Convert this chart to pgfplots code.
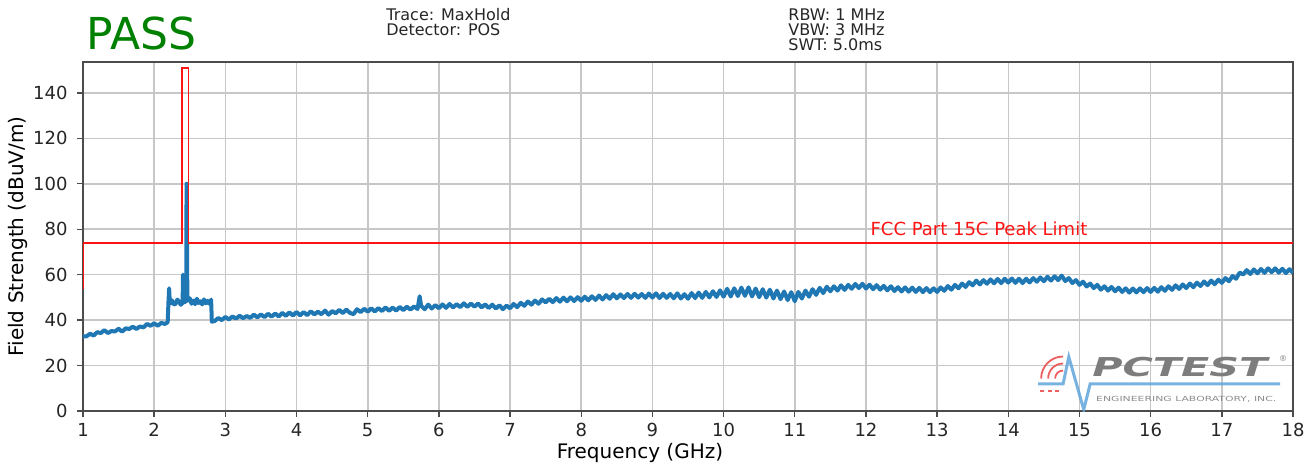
\documentclass[border=0pt]{standalone}
\usepackage{graphicx}
\usepackage{pgfplots}
\pgfplotsset{compat=1.18}
\usepackage{fontspec}
\setmainfont{DejaVu Sans}
\definecolor{mplblue}{RGB}{31,119,180}
\definecolor{passgreen}{RGB}{0,128,0}
\definecolor{logoblue}{RGB}{95,165,220}
\definecolor{logogray}{RGB}{125,125,125}
\definecolor{logored}{RGB}{235,95,95}
\definecolor{limred}{RGB}{255,20,20}
\begin{document}
\begin{tikzpicture}
\path[use as bounding box] (-41.5pt,-27.5pt) rectangle (616pt,205.5pt);
\begin{axis}[
  name=ax, at={(0,0)}, anchor=south west,
  scale only axis, width=605pt, height=174.5pt,
  xmin=1, xmax=18, ymin=0, ymax=153.6,
  xtick={1,2,...,18}, ytick={0,20,...,140},
  tick pos=left,
  grid=major, major grid style={black!22, line width=0.8pt},
  axis line style={black!70, line width=0.7pt},
  tick style={black!70, line width=0.7pt},
  tick align=outside, major tick length=3pt,
  ticklabel style={font=\fontsize{9}{10}\selectfont, text=black!85},
  xticklabel style={inner sep=0pt, anchor=north, yshift=-3pt},
  yticklabel style={inner sep=0pt, anchor=east, xshift=-4.5pt},
  /pgf/number format/assume math mode=true,
  label style={font=\fontsize{8.5}{10}\selectfont, text=black!85},
  every axis x label/.style={at={(axis description cs:0.4603,0)}, anchor=center, yshift=-21pt},
  every axis y label/.style={at={(axis description cs:0,0.5)}, xshift=-32.75pt, rotate=90, anchor=center},
  xlabel={Frequency (GHz)},
  ylabel={Field Strength (dBuV/m)},
]
% logo
\addplot[logoblue, line width=1.5pt, opacity=0.85] coordinates {(14.42,11.9)(14.77,11.9)(14.85,23.8)(15.06,0.6)(15.15,11.9)(17.82,11.9)};
\draw[logored, line width=0.9pt] (axis cs:14.77,14.3) ++(180:4pt) arc[start angle=180, end angle=90, radius=4pt];
\draw[logored, line width=0.9pt] (axis cs:14.77,14.3) ++(180:7.5pt) arc[start angle=180, end angle=90, radius=7.5pt];
\draw[logored, line width=0.9pt] (axis cs:14.77,14.3) ++(180:11pt) arc[start angle=180, end angle=90, radius=11pt];
\draw[logored, line width=1pt, dash pattern=on 2pt off 1.6pt] (axis cs:14.45,8.8) -- (axis cs:14.74,8.8);
\node[inner sep=0pt, text=logogray, font=\fontsize{13}{13}\selectfont\bfseries\itshape] at (axis cs:16.41,19.4) {\scalebox{1.59}[1]{PCTEST}};
\node[inner sep=0pt, text=logogray, font=\fontsize{4}{4}\selectfont] at (axis cs:17.86,23.0) {®};
\node[inner sep=0pt, text=black!45, font=\fontsize{3.5}{4}\selectfont] at (axis cs:16.50,5.3) {\scalebox{1.55}[1]{ENGINEERING LABORATORY, INC.}};
% measured trace (max hold)
\addplot[mplblue, line width=2pt, line join=round] coordinates {
(1.00,32.8)(1.05,32.9)(1.10,34.0)(1.15,33.2)(1.20,34.7)(1.25,34.3)(1.30,35.6)(1.35,34.3)(1.40,35.2)(1.45,35.0)
(1.50,36.2)(1.55,34.9)(1.60,36.4)(1.65,36.1)(1.70,37.1)(1.75,36.1)(1.80,37.2)(1.85,36.8)(1.90,38.3)(1.95,37.5)
(2.00,38.6)(2.05,37.5)(2.10,38.8)(2.15,38.3)(2.19,39.1)(2.20,47.5)(2.21,54.0)(2.22,47.2)(2.25,48.7)(2.275,46.9)
(2.30,47.1)(2.325,49.0)(2.35,48.1)(2.375,46.7)(2.40,48.8)(2.405,60.0)(2.41,47.5)(2.42,49.2)(2.43,48.2)(2.435,60.0)
(2.44,47.9)(2.445,58.5)(2.45,48.2)(2.455,100.0)(2.458,48.6)(2.462,74.0)(2.466,49.2)(2.47,48.5)(2.50,49.6)(2.525,47.2)
(2.55,48.6)(2.575,47.0)(2.60,49.4)(2.625,47.5)(2.65,48.3)(2.675,46.9)(2.70,49.1)(2.725,47.4)(2.75,48.5)(2.775,47.2)
(2.80,49.0)(2.81,39.3)
(2.85,39.6)(2.90,40.9)(2.95,40.0)(3.00,41.4)(3.05,40.3)(3.10,41.6)(3.15,40.7)(3.20,41.9)(3.25,40.9)(3.30,41.8)
(3.35,41.0)(3.40,42.4)(3.45,41.2)(3.50,42.5)(3.55,41.3)(3.60,42.8)(3.65,41.5)(3.70,42.9)(3.75,41.6)(3.80,43.2)
(3.85,41.9)(3.90,43.4)(3.95,42.0)(4.00,43.6)(4.05,42.1)(4.10,43.5)(4.15,42.2)(4.20,43.9)(4.25,42.5)(4.30,43.7)
(4.35,42.6)(4.40,44.2)(4.45,42.4)(4.50,44.0)(4.55,43.0)(4.60,44.5)(4.65,43.1)(4.70,44.6)(4.75,43.2)(4.80,42.6)
(4.85,44.8)(4.90,43.5)(4.95,45.0)(5.00,43.7)(5.05,45.2)(5.10,43.8)(5.15,45.3)(5.20,44.0)(5.25,45.6)(5.30,44.1)
(5.35,45.5)(5.40,44.2)(5.45,45.8)(5.50,44.4)(5.55,45.9)(5.60,44.6)(5.65,46.0)(5.70,44.9)(5.73,50.5)(5.75,46.3)
(5.80,44.8)(5.85,46.8)(5.90,45.1)(5.95,46.6)(6.00,45.2)(6.05,46.9)(6.10,45.4)(6.15,47.1)(6.20,45.6)(6.25,47.0)
(6.30,45.7)(6.35,47.4)(6.40,45.8)(6.45,47.3)(6.50,45.9)(6.55,47.3)(6.60,45.6)(6.65,46.9)(6.70,45.3)(6.75,46.8)
(6.80,45.1)(6.85,46.5)(6.90,44.8)(6.95,46.4)(7.00,45.2)(7.05,47.1)(7.10,45.7)(7.15,47.6)(7.20,46.3)(7.25,48.2)
(7.30,46.8)(7.35,48.6)(7.40,47.2)(7.45,49.1)(7.50,47.8)(7.55,49.4)(7.60,47.9)(7.65,49.7)(7.70,48.1)(7.75,49.9)
(7.80,48.3)(7.85,50.0)(7.90,48.4)(7.95,50.1)(8.00,48.5)(8.05,50.3)(8.10,48.7)(8.15,50.5)(8.20,48.9)(8.25,50.8)
(8.30,49.1)(8.35,51.0)(8.40,49.4)(8.45,51.4)(8.50,49.6)(8.55,51.3)(8.60,49.7)(8.65,51.5)(8.70,49.8)(8.75,51.6)
(8.80,49.9)(8.85,51.5)(8.90,49.8)(8.95,51.7)(9.00,49.9)(9.05,51.8)(9.10,49.7)(9.15,51.6)(9.20,49.8)(9.25,51.5)
(9.30,49.6)(9.35,51.8)(9.40,49.5)(9.45,51.4)(9.50,49.4)(9.55,51.9)(9.60,49.7)(9.65,52.1)(9.70,49.8)(9.75,52.4)
(9.80,50.0)(9.85,52.7)(9.90,50.2)(9.95,53.1)(10.00,50.3)(10.05,53.8)(10.10,50.4)(10.15,54.0)(10.20,50.6)(10.25,54.3)
(10.30,50.7)(10.35,54.4)(10.40,50.4)(10.45,53.9)(10.50,50.1)(10.55,53.6)(10.60,49.9)(10.65,53.4)(10.70,49.5)(10.75,53.0)
(10.80,49.2)(10.85,52.6)(10.90,48.8)(10.95,52.3)(11.00,48.3)(11.05,52.4)(11.10,49.5)(11.15,53.0)(11.20,50.3)(11.25,53.6)
(11.30,51.1)(11.35,54.2)(11.40,51.9)(11.45,54.7)(11.50,52.7)(11.55,54.9)(11.60,53.0)(11.65,55.3)(11.70,53.3)(11.75,55.5)
(11.80,53.8)(11.85,55.9)(11.90,54.1)(11.95,56.0)(12.00,53.9)(12.05,55.6)(12.10,53.6)(12.15,55.4)(12.20,53.4)(12.25,55.1)
(12.30,53.1)(12.35,54.9)(12.40,52.8)(12.45,54.5)(12.50,52.6)(12.55,54.4)(12.60,52.5)(12.65,54.3)(12.70,52.4)(12.75,54.2)
(12.80,52.3)(12.85,54.1)(12.90,52.3)(12.95,54.0)(13.00,52.4)(13.05,54.4)(13.10,52.9)(13.15,55.0)(13.20,53.4)(13.25,55.5)
(13.30,54.0)(13.35,56.1)(13.40,54.6)(13.45,56.7)(13.50,55.3)(13.55,57.4)(13.60,55.7)(13.65,57.6)(13.70,56.0)(13.75,57.9)
(13.80,56.2)(13.85,58.1)(13.90,56.3)(13.95,58.2)(14.00,56.5)(14.05,58.3)(14.10,56.4)(14.15,58.2)(14.20,56.3)(14.25,58.2)
(14.30,56.6)(14.35,58.5)(14.40,56.9)(14.45,58.8)(14.50,57.1)(14.55,59.1)(14.60,57.4)(14.65,59.3)(14.70,57.6)(14.75,59.6)
(14.80,57.2)(14.85,58.5)(14.90,56.3)(14.95,57.6)(15.00,55.5)(15.05,56.9)(15.10,54.8)(15.15,56.1)(15.20,54.1)(15.25,55.5)
(15.30,53.4)(15.35,54.9)(15.40,53.0)(15.45,54.6)(15.50,52.7)(15.55,54.3)(15.60,52.4)(15.65,54.0)(15.70,52.1)(15.75,53.9)
(15.80,52.2)(15.85,54.0)(15.90,52.3)(15.95,54.1)(16.00,52.4)(16.05,54.2)(16.10,52.5)(16.15,54.5)(16.20,52.9)(16.25,54.9)
(16.30,53.3)(16.35,55.3)(16.40,53.7)(16.45,55.7)(16.50,54.1)(16.55,56.1)(16.60,54.5)(16.65,56.5)(16.70,55.0)(16.75,57.0)
(16.80,55.4)(16.85,57.4)(16.90,55.8)(16.95,57.8)(17.00,56.4)(17.05,58.5)(17.10,57.1)(17.15,59.4)(17.20,58.2)(17.25,60.9)
(17.30,60.1)(17.35,62.0)(17.40,60.3)(17.45,62.3)(17.50,60.6)(17.55,62.5)(17.60,60.8)(17.65,62.8)(17.70,61.1)(17.75,62.8)
(17.80,60.9)(17.85,62.6)(17.90,60.7)(17.95,62.4)(18.00,60.8)
};
% limit line
\addplot[limred, line width=0.75pt] coordinates {(1,53.7)(1,74)(2.39,74)(2.39,151)(2.4835,151)(2.4835,74)(18,74)};
\node[anchor=base west, inner sep=0pt, yshift=3.8pt, text=limred, font=\fontsize{9}{10}\selectfont] at (axis cs:12.06,74) {FCC Part 15C Peak Limit};
\end{axis}
\node[anchor=base west, inner sep=0pt, text=passgreen, font=\fontsize{22}{24}\selectfont] at (1.5pt,180.5pt) {PASS};
\node[anchor=base west, inner sep=0pt, text=black!85, font=\fontsize{8}{9}\selectfont] at (151.5pt,195.25pt) {Trace: MaxHold};
\node[anchor=base west, inner sep=0pt, text=black!85, font=\fontsize{8}{9}\selectfont] at (151.5pt,187.75pt) {Detector: POS};
\node[anchor=base west, inner sep=0pt, text=black!85, font=\fontsize{8}{9}\selectfont] at (352.5pt,195.25pt) {RBW: 1 MHz};
\node[anchor=base west, inner sep=0pt, text=black!85, font=\fontsize{8}{9}\selectfont] at (352.5pt,187.75pt) {VBW: 3 MHz};
\node[anchor=base west, inner sep=0pt, text=black!85, font=\fontsize{8}{9}\selectfont] at (352.5pt,180.25pt) {SWT: 5.0ms};
\end{tikzpicture}
\end{document}
